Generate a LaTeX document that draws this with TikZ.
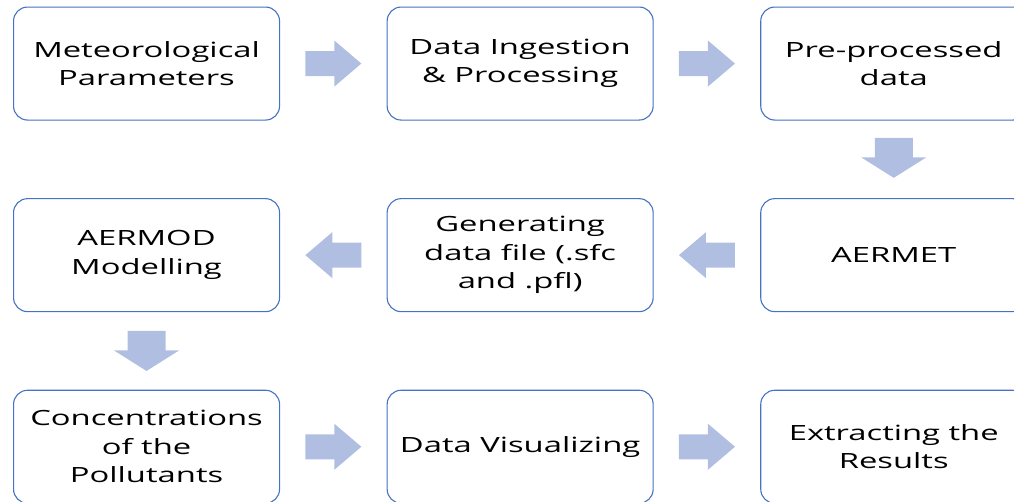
\documentclass[tikz,border=0pt]{standalone}
\usepackage{fontspec}
\setmainfont[FakeStretch=1.56]{Open Sans}
\usetikzlibrary{calc, positioning}

\definecolor{boxblue}{RGB}{68,114,196}
\definecolor{arrowblue}{RGB}{176,190,226}

\tikzset{
    sidearrow/.pic={\fill[arrowblue] (-28pt,-12.5pt) -- (1pt,-12.5pt) -- (1pt,-23pt) -- (28pt,0pt) -- (1pt,23pt) -- (1pt,12.5pt) -- (-28pt,12.5pt) -- cycle;},
    downarrow/.pic={\fill[arrowblue] (-19pt,20pt) -- (19pt,20pt) -- (19pt,0.5pt) -- (32.5pt,0.5pt) -- (0pt,-20pt) -- (-32.5pt,0.5pt) -- (-19pt,0.5pt) -- cycle;}
}

\begin{document}
\begin{tikzpicture}[
    node distance=77.5pt and 106.5pt,
    box/.style={draw=boxblue, line width=1.1pt, rectangle, rounded corners=14pt, align=center, minimum width=266pt, minimum height=113pt, inner sep=0pt, font=\fontsize{21pt}{28.5pt}\selectfont}
]
\useasboundingbox (0,0) rectangle (1014pt,-501pt);

\node[box, anchor=north west] (met) at (13pt,-6.5pt) {Meteorological\\Parameters};
\node[box] (ing) [right=of met] {Data Ingestion\\\& Processing};
\node[box] (pre) [right=of ing] {Pre-processed\\data};
\node[box] (aermet) [below=of pre] {AERMET};
\node[box] (gen) [left=of aermet] {Generating\\data file (.sfc\\and .pfl)};
\node[box] (aermod) [left=of gen] {AERMOD\\Modelling};
\node[box] (conc) [below=of aermod] {Concentrations\\of the\\Pollutants};
\node[box] (vis) [right=of conc] {Data Visualizing};
\node[box] (res) [right=of vis] {Extracting the\\Results};

% block arrows between the boxes
\pic at ($(met.east)!0.5!(ing.west)$) {sidearrow};
\pic at ($(ing.east)!0.5!(pre.west)$) {sidearrow};
\pic at ($(pre.south)!0.5!(aermet.north)+(0,1.5pt)$) {downarrow};
\pic[rotate=180] at ($(aermet.west)!0.5!(gen.east)$) {sidearrow};
\pic[rotate=180] at ($(gen.west)!0.5!(aermod.east)$) {sidearrow};
\pic at ($(aermod.south)!0.5!(conc.north)$) {downarrow};
\pic at ($(conc.east)!0.5!(vis.west)$) {sidearrow};
\pic at ($(vis.east)!0.5!(res.west)$) {sidearrow};

\end{tikzpicture}
\end{document}
